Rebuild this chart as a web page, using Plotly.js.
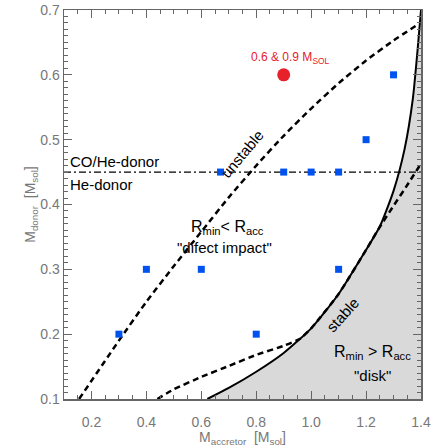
<!DOCTYPE html>
<html><head><meta charset="utf-8">
<script src="https://cdn.plot.ly/plotly-3.0.0.min.js"></script>
<style>html,body{margin:0;padding:0;background:#fff}#chart{width:435px;height:447px}</style>
</head><body><div id="chart"></div>
<script>
// blue squares (simulated systems)
const sqX = [0.3, 0.4, 0.6, 0.8, 1.1, 0.67, 0.9, 1.0, 1.1, 1.2, 1.3];
const sqY = [0.2, 0.3, 0.3, 0.2, 0.3, 0.45, 0.45, 0.45, 0.45, 0.5, 0.6];
// red circle
const redX = [0.9];
const redY = [0.6];
// upper dashed curve (unstable boundary)
const unstableX = [0.155, 0.30, 0.40, 0.50, 0.60, 0.70, 0.80, 0.90, 1.00, 1.10, 1.20, 1.30, 1.39];
const unstableY = [0.10, 0.19, 0.25, 0.305, 0.358, 0.411, 0.46, 0.506, 0.548, 0.587, 0.622, 0.653, 0.678];
// solid curve (stable boundary)
const stableX = [0.622, 0.70, 0.80, 0.90, 1.00, 1.10, 1.20, 1.25, 1.30, 1.34, 1.37, 1.39, 1.40];
const stableY = [0.10, 0.117, 0.142, 0.171, 0.209, 0.262, 0.330, 0.366, 0.421, 0.485, 0.562, 0.650, 0.70];
// lower dashed curve (Rmin = Racc)
const diskX = [0.44, 0.50, 0.60, 0.70, 0.80, 0.90, 0.96, 1.00, 1.10, 1.20, 1.245, 1.30, 1.35, 1.40];
const diskY = [0.10, 0.115, 0.134, 0.151, 0.168, 0.182, 0.193, 0.209, 0.262, 0.330, 0.362, 0.398, 0.43, 0.463];
// CO/He donor divide
const donorX = [0.1, 1.4];
const donorY = [0.45, 0.45];
const xRange = [0.1, 1.4];
const yRange = [0.1, 0.7];

const fillX = stableX.concat([xRange[1], stableX[0]]);
const fillY = stableY.concat([yRange[0], yRange[0]]);

const data = [
  {x: fillX, y: fillY, type: 'scatter', mode: 'lines', fill: 'toself', fillcolor: '#d9d9d9', line: {width: 0, color: 'rgba(0,0,0,0)', shape: 'spline', smoothing: 0.6}, hoverinfo: 'skip'},
  {x: donorX, y: donorY, type: 'scatter', mode: 'lines', line: {color: '#000', width: 1.3, dash: '7px,3px,2px,3px'}},
  {x: unstableX, y: unstableY, type: 'scatter', mode: 'lines', line: {color: '#000', width: 2.5, dash: '6px,4px', shape: 'spline', smoothing: 0.6}},
  {x: diskX, y: diskY, type: 'scatter', mode: 'lines', line: {color: '#000', width: 2.5, dash: '6px,4px', shape: 'spline', smoothing: 0.5}},
  {x: stableX, y: stableY, type: 'scatter', mode: 'lines', line: {color: '#000', width: 2, shape: 'spline', smoothing: 0.6}},
  {x: sqX, y: sqY, type: 'scatter', mode: 'markers', marker: {symbol: 'square', size: 7, color: '#0052f0'}},
  {x: redX, y: redY, xaxis: 'x2', type: 'scatter', mode: 'markers', marker: {symbol: 'circle', size: 13, color: '#e8202a'}}
];

const tickFont = {family: 'Liberation Sans, Arial, sans-serif', size: 14, color: '#777'};
const txt = {family: 'Liberation Sans, Arial, sans-serif', size: 15, color: '#000'};
function ann(text, x, y, opts) {
  return Object.assign({text: text, x: x, y: y, xref: 'x', yref: 'y', showarrow: false, font: txt}, opts || {});
}

const layout = {
  width: 435, height: 447,
  margin: {l: 64, r: 14, t: 10, b: 48},
  paper_bgcolor: '#fff', plot_bgcolor: '#fff',
  showlegend: false,
  // frame + inside ticks
  xaxis: {
    range: xRange, tick0: 0, dtick: 0.2,
    ticks: 'inside', ticklen: 8, tickwidth: 1, tickcolor: '#666',
    showline: true, linecolor: '#666', linewidth: 1.5, mirror: 'ticks',
    showgrid: false, zeroline: false, showticklabels: false,
    minor: {ticks: 'inside', tick0: 0, dtick: 0.05, ticklen: 4, tickwidth: 1, tickcolor: '#666', showgrid: false}
  },
  // labels + title of the x axis, pushed below by invisible outside ticks
  xaxis2: {
    overlaying: 'x', anchor: 'y', side: 'bottom',
    range: xRange, tick0: 0, dtick: 0.2, tickformat: '.1f',
    ticks: 'outside', ticklen: 10, tickcolor: 'rgba(0,0,0,0)',
    showline: false, showgrid: false, zeroline: false,
    tickfont: tickFont,
    title: {text: 'M<sub>accretor</sub>  [M<sub>sol</sub>]', font: tickFont, standoff: 2}
  },
  yaxis: {
    range: yRange, tick0: 0, dtick: 0.1, tickformat: '.1f',
    ticks: 'inside', ticklen: 8, tickwidth: 1, tickcolor: '#666',
    showline: true, linecolor: '#666', linewidth: 1.5, mirror: 'ticks',
    showgrid: false, zeroline: false,
    minor: {ticks: 'inside', tick0: 0, dtick: 0.01, ticklen: 4, tickwidth: 1, tickcolor: '#666', showgrid: false},
    tickfont: tickFont,
    title: {text: 'M<sub>donor</sub>  [M<sub>sol</sub>]', font: tickFont, standoff: 0}
  },
  annotations: [
    ann('0.6 &amp; 0.9 M<sub>SOL</sub>', 0.923, 0.626, {font: {family: 'Liberation Sans, Arial, sans-serif', size: 12, color: '#e8202a'}}),
    ann('CO/He-donor', 0.1146, 0.4656, {xanchor: 'left'}),
    ann('He-donor', 0.1146, 0.4316, {xanchor: 'left'}),
    ann('unstable', 0.75, 0.478, {textangle: -50}),
    ann('R<sub>min</sub>&lt; R<sub>acc</sub>', 0.694, 0.364, {font: {family: 'Liberation Sans, Arial, sans-serif', size: 16, color: '#000'}}),
    ann('"difect impact"', 0.686, 0.333),
    ann('stable', 1.116, 0.2296, {textangle: -48}),
    ann('R<sub>min</sub> &gt; R<sub>acc</sub>', 1.222, 0.1725, {font: {family: 'Liberation Sans, Arial, sans-serif', size: 16, color: '#000'}}),
    ann('"disk"', 1.222, 0.1355)
  ]
};

Plotly.newPlot('chart', data, layout, {displayModeBar: false, staticPlot: true});
</script>
</body></html>
